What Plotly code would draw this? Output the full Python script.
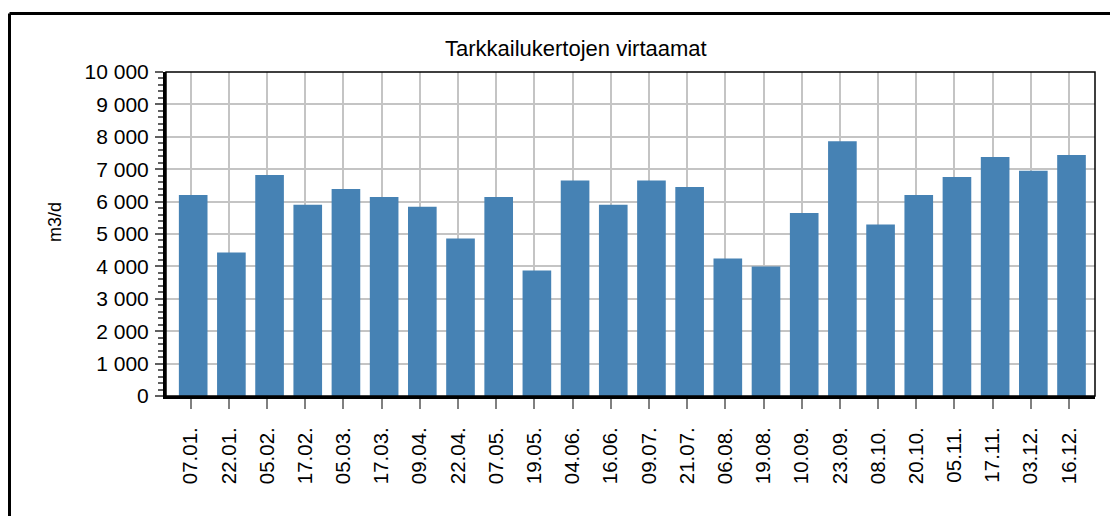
import plotly.graph_objects as go

dates = ["07.01.", "22.01.", "05.02.", "17.02.", "05.03.", "17.03.", "09.04.", "22.04.",
         "07.05.", "19.05.", "04.06.", "16.06.", "09.07.", "21.07.", "06.08.", "19.08.",
         "10.09.", "23.09.", "08.10.", "20.10.", "05.11.", "17.11.", "03.12.", "16.12."]
flows = [6200, 4430, 6820, 5900, 6390, 6140, 5840, 4860,
         6140, 3870, 6650, 5900, 6650, 6450, 4240, 4000,
         5650, 7860, 5290, 6200, 6760, 7380, 6950, 7440]
y_tickvals = [0, 1000, 2000, 3000, 4000, 5000, 6000, 7000, 8000, 9000, 10000]
y_ticktext = ["0", "1 000", "2 000", "3 000", "4 000", "5 000", "6 000", "7 000",
              "8 000", "9 000", "10 000"]
title_text = "Tarkkailukertojen virtaamat"
y_title = "m3/d"

# page has an 8px body margin; figure sized to fit the 1118x524 window
OFF = 8
W, H = 1118 - 2 * OFF, 524 - 2 * OFF
L, R, T, B = 166, 1095, 72, 396          # plot area in page pixels
pw, ph = R - L, B - T

def px_x(x):
    return (x - L) / pw

def px_y(y):
    return (B - y) / ph

FONT = "Liberation Sans, Arial, sans-serif"

fig = go.Figure()
fig.add_trace(go.Bar(
    x=dates, y=flows,
    marker=dict(color="#4682B4", line=dict(width=0)),
    width=0.75, offset=-0.31,
))

fig.update_layout(
    width=W, height=H,
    margin=dict(l=L - OFF, r=W - (R - OFF), t=T - OFF, b=H - (B - OFF), autoexpand=False),
    paper_bgcolor="white", plot_bgcolor="white",
    showlegend=False,
    font=dict(family=FONT, color="black", size=20),
)

fig.update_xaxes(
    type="category",
    range=[-0.647, 23.68],
    showgrid=True, gridcolor="#C4C4C4", gridwidth=2,
    showline=True, linecolor="black", linewidth=3,
    ticks="outside", ticklen=10, tickcolor="#808080", tickwidth=2,
    tickangle=-90, tickfont=dict(size=20.5, family=FONT),
    ticklabelstandoff=10,
    zeroline=False,
)

fig.update_yaxes(
    range=[0, 10000],
    tickvals=y_tickvals, ticktext=y_ticktext,
    showgrid=True, gridcolor="#C4C4C4", gridwidth=2,
    showline=True, linecolor="black", linewidth=3,
    ticks="outside", ticklen=8, tickcolor="#606060", tickwidth=1.5,
    minor=dict(dtick=200, ticks="outside", ticklen=5, tickcolor="#606060",
               tickwidth=1.5, showgrid=False),
    tickfont=dict(size=21, family=FONT),
    ticklabelstandoff=2,
    zeroline=False,
)

# thin top/right frame of plot area
fig.add_shape(type="rect", xref="paper", yref="paper", x0=0, x1=1, y0=0, y1=1,
              line=dict(color="black", width=1.5), layer="above")

# outer chart frame (top and left edges visible)
fig.add_shape(type="line", xref="paper", yref="paper",
              x0=px_x(9.5), x1=px_x(1130), y0=px_y(13.5), y1=px_y(13.5),
              line=dict(color="black", width=3))
fig.add_shape(type="line", xref="paper", yref="paper",
              x0=px_x(9.5), x1=px_x(9.5), y0=px_y(13.5), y1=px_y(540),
              line=dict(color="black", width=3))

fig.add_annotation(text=title_text, xref="paper", yref="paper",
                   x=px_x(575.5), y=px_y(49), xanchor="center", yanchor="middle",
                   showarrow=False, font=dict(size=22, family=FONT, color="black"))
fig.add_annotation(text=y_title, xref="paper", yref="paper",
                   x=px_x(55), y=px_y(222), xanchor="center", yanchor="middle",
                   textangle=-90, showarrow=False,
                   font=dict(size=18, family=FONT, color="black"))

fig.write_html("out.html")
